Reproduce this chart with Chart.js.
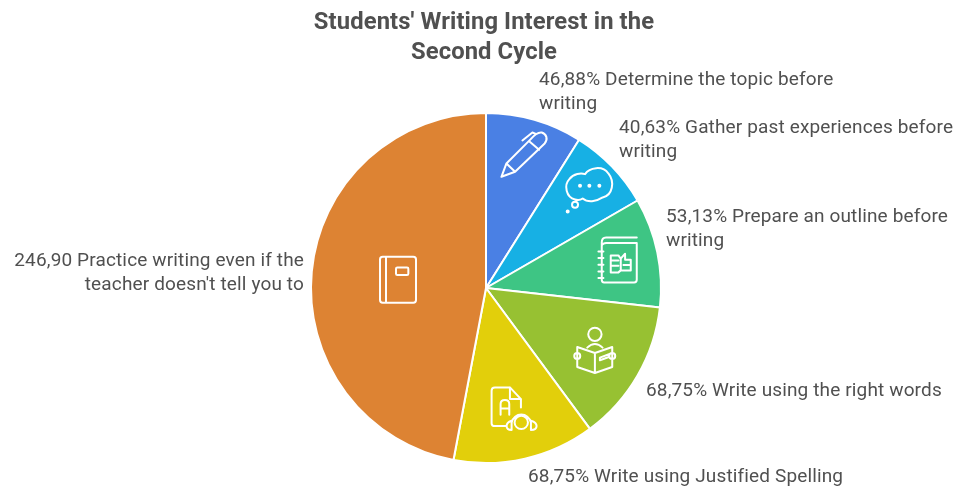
<!DOCTYPE html>
<html>
<head>
<meta charset="utf-8">
<title>Students' Writing Interest in the Second Cycle</title>
<script src="https://cdn.jsdelivr.net/npm/chart.js@4/dist/chart.umd.min.js"></script>
<style>
  html, body { margin: 0; padding: 0; background: #ffffff; }
  canvas { display: block; }
</style>
</head>
<body>
<canvas id="chart" width="958" height="488"></canvas>
<script>
// Series
const titleLines = ["Students' Writing Interest in the", "Second Cycle"];
const values = [46.88, 40.63, 53.13, 68.75, 68.75, 246.90];
const categoryLines = [
  ["Determine the topic before", "writing"],
  ["Gather past experiences before", "writing"],
  ["Prepare an outline before", "writing"],
  ["Write using the right words"],
  ["Write using Justified Spelling"],
  ["Practice writing even if the", "teacher doesn't tell you to"]
];
const sliceColors = ["#4a80e4", "#17b0e4", "#3ec584", "#97c132", "#e2cf0b", "#dd8333"];

// Label placement: anchor x, first baseline y, text alignment
const labelSpots = [
  { x: 539, y: 85, align: "left" },
  { x: 619, y: 133, align: "left" },
  { x: 666, y: 222, align: "left" },
  { x: 646, y: 396, align: "left" },
  { x: 528, y: 481.5, align: "left" },
  { x: 304, y: 266, align: "right" }
];

// Line icons, outlined on a 3x grid around a pivot, placed along each slice's mid angle
const icons = [
  { at: 0.80, px: 117, py: 135, d: "M47 205 L62 165 L135 92 C145 80 155 70 168 72 C182 76 188 92 176 106 L88 190 Z M62 165 L88 190 M132 100 L160 124 M110 96 L140 72 L150 76" },
  { at: 0.82, px: 305, py: 235, d: "M262 268 C235 262 228 225 245 207 C258 190 280 188 292 192 C305 172 345 165 362 190 C382 215 375 255 345 262 C325 275 300 278 285 265 C278 270 268 270 262 268 Z M271 284 A9 9 0 1 1 253 284 A9 9 0 1 1 271 284 Z M243 304 A3 3 0 1 1 237 304 A3 3 0 1 1 243 304 Z M280 227 A3 3 0 1 1 274 227 A3 3 0 1 1 280 227 Z M308 227 A3 3 0 1 1 302 227 A3 3 0 1 1 308 227 Z M338 227 A3 3 0 1 1 332 227 A3 3 0 1 1 338 227 Z" },
  { at: 0.773, px: 395, py: 452, d: "M450 383 H358 Q345 383 345 398 V510 Q345 518 352 518 H442 Q450 518 450 510 V400 H358 Q349 400 345 407 M335 425 H350 M335 445 H350 M335 465 H350 M335 485 H350 M335 505 H350 M372 437 H395 L402 447 L415 432 V450 H432 V482 H402 L395 488 H372 Z M402 447 V482 M372 452 H395 M372 468 H395 M410 466 H432" },
  { at: 0.712, px: 700, py: 330, d: "M723 282 A20 20 0 1 1 683 282 A20 20 0 1 1 723 282 Z M680 322 Q703 300 726 322 M650 320 L703 338 L755 320 V380 L703 398 L650 380 Z M703 338 V398 M659 347 A9 9 0 1 1 641 347 A9 9 0 1 1 659 347 Z M764 347 A9 9 0 1 1 746 347 A9 9 0 1 1 764 347 Z M718 352 L745 342 L745 350 L718 360 Z" },
  { at: 0.70, px: 460, py: 500, d: "M450 440 H405 Q395 440 395 450 V548 Q395 556 405 556 H440 M450 440 L483 475 V500 M450 440 V475 H483 M422 522 V490 Q422 478 435 478 Q448 478 448 490 V522 M422 503 H448 M504 545 A20 20 0 1 1 464 545 A20 20 0 1 1 504 545 Z M455 545 A30 32 0 0 1 513 545 M455 540 Q440 545 440 556 Q440 568 455 568 Z M513 540 Q530 545 530 556 Q530 568 513 568 Z" },
  { at: 0.505, px: 116, py: 117, d: "M70 48 H162 Q170 48 170 56 V178 Q170 186 162 186 H70 Q62 186 62 178 V56 Q62 48 70 48 Z M80 48 V186 M114 80 H143 Q147 80 147 84 V99 Q147 103 143 103 H114 Q110 103 110 99 V84 Q110 80 114 80 Z" }
];

const textColor = "#505050";
const labelFont = "19px Roboto";
const labelSpacing = "0.14px";
const labelLineHeight = 23.5;
const titleFont = "bold 23.8px Roboto";
const titleSpacing = "0.1px";
const titleX = 484;
const titleBaselines = [29, 59];

// Heading and side labels, values written with the decimal comma
const chartText = {
  id: "chartText",
  afterDraw(chart) {
    const ctx = chart.ctx;
    ctx.save();
    ctx.fillStyle = textColor;
    ctx.textBaseline = "alphabetic";
    ctx.font = titleFont;
    ctx.letterSpacing = titleSpacing;
    ctx.textAlign = "center";
    titleLines.forEach((line, n) => ctx.fillText(line, titleX, titleBaselines[n]));
    ctx.font = labelFont;
    ctx.letterSpacing = labelSpacing;
    values.forEach((value, i) => {
      const spot = labelSpots[i];
      const lines = categoryLines[i].slice();
      lines[0] = value.toFixed(2).replace(".", ",") + (i === 5 ? " " : "% ") + lines[0];
      ctx.textAlign = spot.align;
      lines.forEach((line, n) => ctx.fillText(line, spot.x, spot.y + n * labelLineHeight));
    });
    ctx.restore();
  }
};

// White outline icons sitting inside the slices
const sliceIcons = {
  id: "sliceIcons",
  afterDatasetsDraw(chart) {
    const ctx = chart.ctx;
    const arcs = chart.getDatasetMeta(0).data;
    ctx.save();
    ctx.strokeStyle = "#ffffff";
    ctx.lineJoin = "round";
    ctx.lineCap = "round";
    icons.forEach((icon, i) => {
      const arc = arcs[i];
      const mid = (arc.startAngle + arc.endAngle) / 2;
      const r = arc.outerRadius * icon.at;
      ctx.save();
      ctx.translate(arc.x + Math.cos(mid) * r, arc.y + Math.sin(mid) * r);
      ctx.scale(1 / 3, 1 / 3);
      ctx.translate(-icon.px, -icon.py);
      ctx.lineWidth = 6;
      ctx.stroke(new Path2D(icon.d));
      ctx.restore();
    });
    ctx.restore();
  }
};

new Chart(document.getElementById("chart"), {
  type: "pie",
  data: {
    labels: categoryLines.map(l => l.join(" ")),
    datasets: [{
      data: values,
      backgroundColor: sliceColors,
      borderColor: "#ffffff",
      borderWidth: 2,
      radius: 175
    }]
  },
  options: {
    responsive: false,
    animation: false,
    layout: { padding: { left: 14, right: 0, top: 88, bottom: 0 } },
    plugins: {
      legend: { display: false },
      tooltip: { enabled: false }
    }
  },
  plugins: [sliceIcons, chartText]
});
</script>
</body>
</html>
